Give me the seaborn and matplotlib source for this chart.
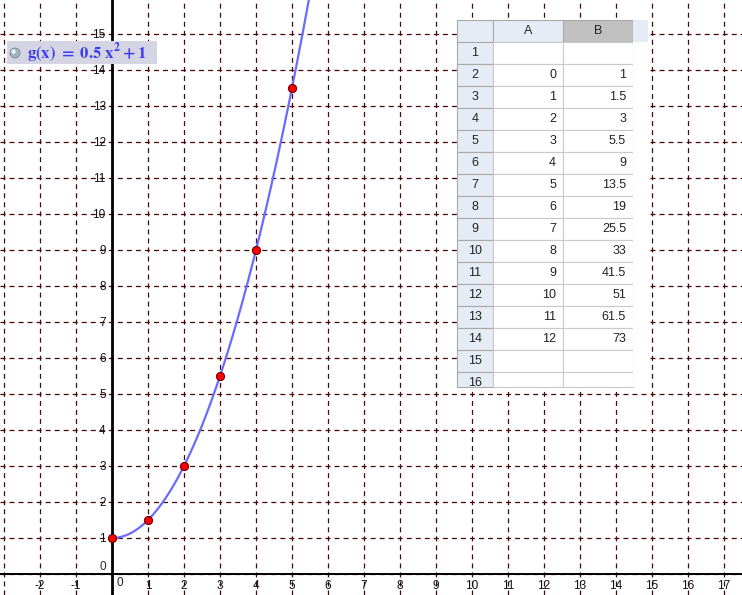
import numpy as np
import matplotlib
matplotlib.use("Agg")
import matplotlib.pyplot as plt
from matplotlib.patches import Rectangle, Circle
from matplotlib.ticker import FixedLocator, FixedFormatter
import seaborn as sns

# spreadsheet columns (A = x, B = g(x))
col_a = [0, 1, 2, 3, 4, 5, 6, 7, 8, 9, 10, 11, 12]
col_b = [1, 1.5, 3, 5.5, 9, 13.5, 19, 25.5, 33, 41.5, 51, 61.5, 73]
row_numbers = list(range(1, 17))

# function shown in the algebra label
g_coef = 0.5
g_const = 1
g_label = r"$\mathbf{g(x)\ =\ 0.5\ x^{2}+1}$"

x_ticks = list(range(-3, 18))
y_ticks = list(range(0, 16))

W, H = 742, 595
sns.set_style("white")
plt.rcParams["font.family"] = ["Liberation Sans", "DejaVu Sans"]
plt.rcParams["mathtext.fontset"] = "stix"
plt.rcParams["lines.scale_dashes"] = False

fig = plt.figure(figsize=(W / 100, H / 100), dpi=100)
ax = fig.add_axes([0, 0, 1, 1])

# view window: origin at pixel (112, 574), 36 px per unit
unit = 36.0
ox, oy = 112, 574
ax.set_xlim(-ox / unit, (W - ox) / unit)
ax.set_ylim(-(H - oy) / unit, oy / unit)

# curve and points
xs = np.linspace(0, col_a[-1], 600)
sns.lineplot(x=xs, y=g_coef * xs ** 2 + g_const, ax=ax, color="#6b6bff",
             linewidth=1.6, sort=False, zorder=4)
sns.scatterplot(x=col_a, y=col_b, ax=ax, color="#ff0000", edgecolor="#6a0000",
                linewidth=0.8, s=34, zorder=5)

# axes through origin
for side in ["top", "right"]:
    ax.spines[side].set_visible(False)
ax.spines["left"].set_position(("data", 0))
ax.spines["bottom"].set_position(("data", 0))
ax.spines["left"].set_linewidth(2.0)
ax.spines["bottom"].set_linewidth(1.4)
ax.spines["left"].set_color("black")
ax.spines["bottom"].set_color("black")
ax.spines["left"].set_zorder(3)
ax.spines["bottom"].set_zorder(3)

ax.xaxis.set_major_locator(FixedLocator(x_ticks))
ax.xaxis.set_major_formatter(FixedFormatter(["" if t in (-3, 0) else str(t) for t in x_ticks]))
ax.yaxis.set_major_locator(FixedLocator(y_ticks))
ax.yaxis.set_major_formatter(FixedFormatter(["" if t == 0 else str(t) for t in y_ticks]))
ax.tick_params(axis="both", direction="out", length=3, width=1, color="black",
               labelsize=8.5, pad=1.5, labelcolor="#111111")
ax.set_xlabel("")
ax.set_ylabel("")

ax.grid(True, color="#4a0808", linestyle=(0, (3.6, 2.9)), linewidth=0.9)
ax.set_axisbelow(True)

# zero labels placed the way GeoGebra does
ax.text(8 / unit, -9 / unit, "0", fontsize=8.5, ha="center", va="center")
ax.text(-9 / unit, 7 / unit, "0", fontsize=8.5, ha="center", va="center")

T = fig.dpi_scale_trans


def px(x, y):
    return (x / 100, (H - y) / 100)


# algebra label box
fig.add_artist(Rectangle(px(7, 64), 150 / 100, 23 / 100, transform=T,
                         facecolor="#d4d4e3", edgecolor="none", zorder=6))
fig.add_artist(Circle(px(15, 53), 0.05, transform=T, facecolor="#9fb4bf",
                      edgecolor="#6e8794", linewidth=0.6, zorder=7))
fig.add_artist(Circle(px(13.5, 51.5), 0.022, transform=T, facecolor="#f4f8fa",
                      edgecolor="none", zorder=8))
fig.text(*px(27, 53), g_label, transform=T, fontsize=12, color="#3b3bf2",
         ha="left", va="center", zorder=9)

# spreadsheet view
left, top = 457, 20
hdr_w, col_w, extra_w = 36, 70, 15
hdr_h, row_h = 22, 22
bottom = 387
line_c = "#c9c9c9"
hdr_fill = "#e6ecf6"

def cell(x0, y0, w, h, face, edge=line_c, z=6):
    fig.add_artist(Rectangle(px(x0, y0 + h), w / 100, h / 100, transform=T,
                             facecolor=face, edgecolor=edge, linewidth=0.8, zorder=z))

# header row
cell(left, top, hdr_w, hdr_h, hdr_fill, edge="#a9a9a9")
cell(left + hdr_w, top, col_w, hdr_h, hdr_fill, edge="#a9a9a9")
cell(left + hdr_w + col_w, top, col_w, hdr_h, "#c0c0c0", edge="#a9a9a9")
cell(left + hdr_w + 2 * col_w, top, extra_w, hdr_h, hdr_fill, edge="none")
fig.text(*px(left + hdr_w + col_w / 2, top + hdr_h / 2), "A", transform=T,
         fontsize=9, ha="center", va="center", color="#222222", zorder=9)
fig.text(*px(left + hdr_w + 1.5 * col_w, top + hdr_h / 2), "B", transform=T,
         fontsize=9, ha="center", va="center", color="#222222", zorder=9)

# body rows
for i, r in enumerate(row_numbers):
    y0 = top + hdr_h + i * row_h
    h = min(row_h, bottom - y0)
    cell(left, y0, hdr_w, h, hdr_fill, edge="#a9a9a9")
    cell(left + hdr_w, y0, col_w, h, "white")
    cell(left + hdr_w + col_w, y0, col_w, h, "white")
    cell(left + hdr_w + 2 * col_w, y0, extra_w, h, "white", edge="none")
    yc = y0 + row_h / 2
    fig.text(*px(left + hdr_w / 2, yc), str(r), transform=T, fontsize=9,
             ha="center", va="center", color="#222222", zorder=9)
    k = r - 2
    if 0 <= k < len(col_a):
        fig.text(*px(left + hdr_w + col_w - 7, yc), f"{col_a[k]:g}", transform=T,
                 fontsize=9, ha="right", va="center", color="#222222", zorder=9)
        fig.text(*px(left + hdr_w + 2 * col_w - 7, yc), f"{col_b[k]:g}", transform=T,
                 fontsize=9, ha="right", va="center", color="#222222", zorder=9)

fig.savefig("out.png", dpi=100)
